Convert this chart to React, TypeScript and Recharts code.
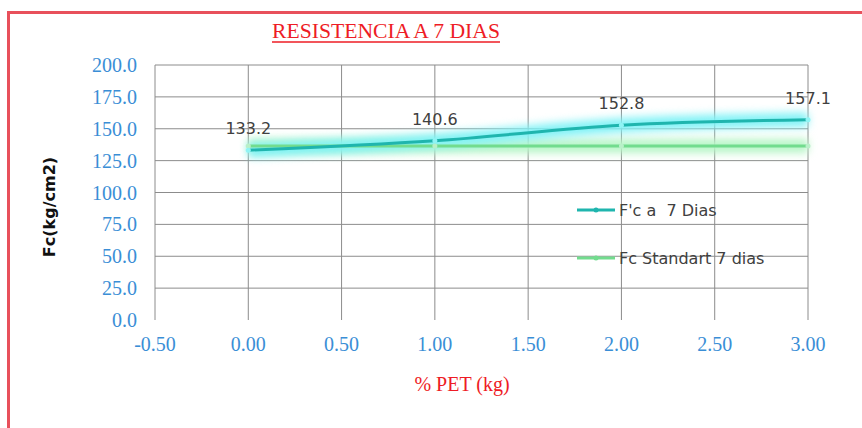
import { LineChart, Line, XAxis, YAxis, CartesianGrid, LabelList } from 'recharts'

const petKg = [0, 1, 2, 3]
const fc7Dias = [133.2, 140.6, 152.8, 157.1]
const fcStandard = [136.5, 136.5, 136.5, 136.5]
const xTicks = [-0.5, 0, 0.5, 1, 1.5, 2, 2.5, 3]
const yTicks = [0, 25, 50, 75, 100, 125, 150, 175, 200]
const seriesNames = ["F'c a  7 Dias", 'Fc Standart 7 dias']

const data = petKg.map((x, i) => ({ x, fc: fc7Dias[i], std: fcStandard[i] }))

const TEAL = '#1fb5ae'
const GREEN = '#72dc8e'
const BLUE = '#3a8ed6'
const RED = '#ee1c25'

const tickStyle = { fill: BLUE, fontSize: 20, fontFamily: '"Liberation Serif", serif' }

function LegendBox() {
  const rows = [
    { label: seriesNames[0], color: TEAL },
    { label: seriesNames[1], color: GREEN },
  ]
  return (
    <div style={{ position: 'absolute', left: 577, top: 186, fontFamily: '"DejaVu Sans", sans-serif', fontSize: 16, color: '#404040' }}>
      {rows.map(r => (
        <div key={r.label} style={{ display: 'flex', alignItems: 'center', height: 48 }}>
          <svg width={42} height={10}>
            <line x1={0} y1={5} x2={38} y2={5} stroke={r.color} strokeWidth={3} />
            <circle cx={19} cy={5} r={2.5} fill={r.color} />
          </svg>
          <span style={{ whiteSpace: 'pre' }}>{r.label}</span>
        </div>
      ))}
    </div>
  )
}

export default function App() {
  return (
    <div style={{ position: 'absolute', left: 0, top: 0, width: 862, height: 428, background: '#fff', overflow: 'hidden' }}>
      <style>{`.glow path { filter: blur(4px); }`}</style>
      <div style={{ position: 'absolute', left: 7, top: 11, width: 900, height: 500, border: '3px solid #e8505b', boxSizing: 'border-box' }} />
      <LineChart
        width={862}
        height={428}
        data={data}
        margin={{ top: 65, right: 54, left: 0, bottom: 68 }}
        style={{ position: 'absolute', left: 0, top: 0 }}
      >
        <CartesianGrid stroke="#8c8c8c" horizontalValues={[25, 50, 75, 100, 125, 150, 175, 200]} />
        <XAxis
          dataKey="x"
          type="number"
          domain={[-0.5, 3]}
          ticks={xTicks}
          tickFormatter={(v: number) => v.toFixed(2)}
          tick={tickStyle}
          axisLine={false}
          tickLine={false}
          tickSize={6}
          tickMargin={11}
          height={40}
          interval={0}
        />
        <YAxis
          type="number"
          domain={[0, 200]}
          ticks={yTicks}
          tickFormatter={(v: number) => v.toFixed(1)}
          tick={tickStyle}
          axisLine={false}
          tickLine={false}
          tickSize={6}
          tickMargin={12}
          width={155}
          interval={0}
        />
        <Line className="glow" dataKey="std" type="linear" stroke="#b6f5c6" strokeWidth={14} dot={false} legendType="none" isAnimationActive={false} />
        <Line className="glow" dataKey="fc" type="monotone" stroke="#7ff2f6" strokeWidth={14} dot={false} legendType="none" isAnimationActive={false} />
        <Line dataKey="std" name={seriesNames[1]} type="linear" stroke={GREEN} strokeWidth={3} dot={{ r: 2.5, fill: '#b8f0c8', stroke: 'none' }} isAnimationActive={false} />
        <Line dataKey="fc" name={seriesNames[0]} type="monotone" stroke={TEAL} strokeWidth={3} dot={{ r: 2.5, fill: '#8ff4f4', stroke: 'none' }} isAnimationActive={false}>
          <LabelList
            dataKey="fc"
            position="top"
            offset={16}
            formatter={(v: number) => v.toFixed(1)}
            style={{ fill: '#404040', fontSize: 16, fontFamily: '"DejaVu Sans", sans-serif' }}
          />
        </Line>
      </LineChart>
      <LegendBox />
      <svg width={862} height={428} style={{ position: 'absolute', left: 0, top: 0, pointerEvents: 'none' }}>
        <text x={386} y={38} textAnchor="middle" fill={RED} fontSize={22} fontFamily='"Liberation Serif", serif' textLength={228} lengthAdjust="spacingAndGlyphs">
          RESISTENCIA A 7 DIAS
        </text>
        <line x1={272} y1={42} x2={500} y2={42} stroke={RED} strokeWidth={1.5} />
        <text x={462} y={391} textAnchor="middle" fill={RED} fontSize={20} fontFamily='"Liberation Serif", serif'>
          % PET (kg)
        </text>
        <text
          x={0}
          y={0}
          transform="translate(55 207) rotate(-90)"
          textAnchor="middle"
          fill="#111"
          fontSize={16}
          fontWeight="bold"
          fontFamily='"DejaVu Sans", sans-serif'
        >
          Fc(kg/cm2)
        </text>
      </svg>
    </div>
  )
}
